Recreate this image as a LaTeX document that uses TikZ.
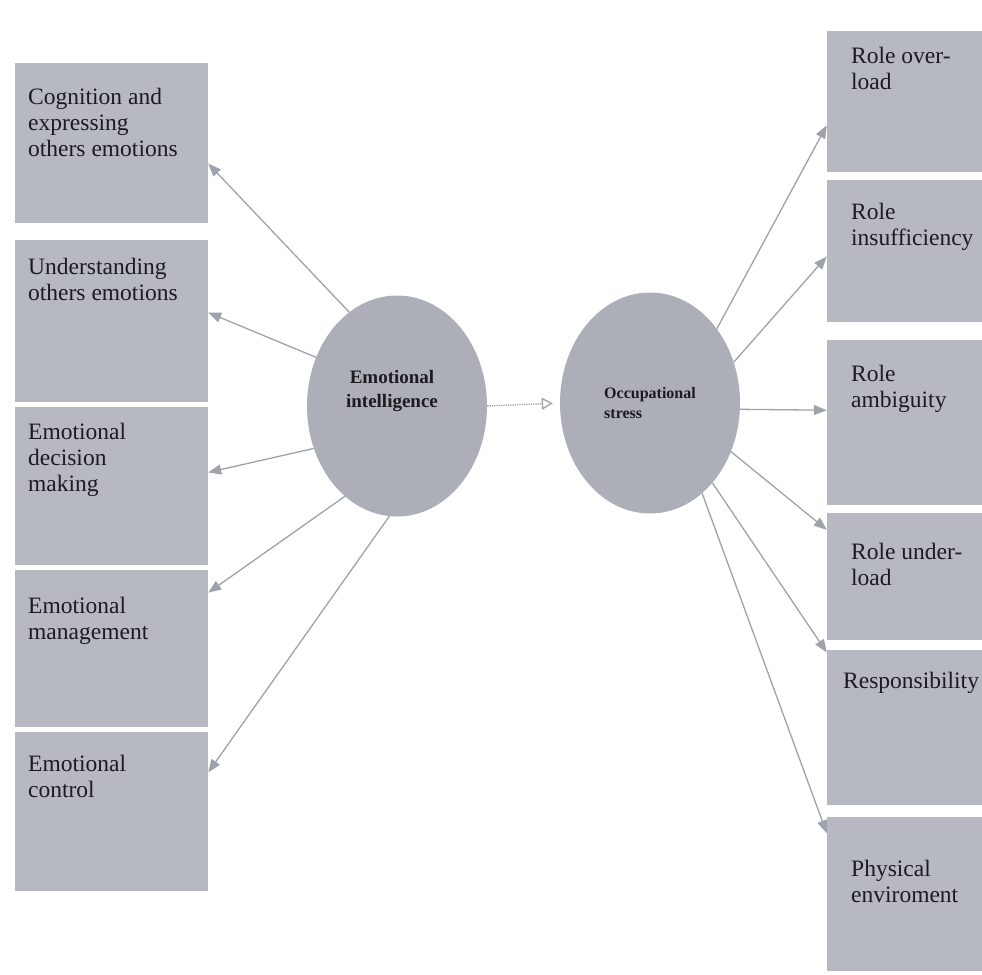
\documentclass[tikz,border=0pt]{standalone}
\usepackage{fontspec}
\setmainfont{Liberation Serif}
\usetikzlibrary{arrows.meta,shapes.geometric}
\definecolor{boxgray}{RGB}{182,185,193}
\definecolor{ovalgray}{RGB}{172,175,184}
\definecolor{linkgray}{RGB}{158,162,171}
\definecolor{inkdark}{RGB}{28,28,32}
\tikzset{
  factorbox/.style={rectangle, fill=boxgray, minimum width=193pt, inner sep=0pt},
  stressbox/.style={rectangle, fill=boxgray, minimum width=155pt, inner sep=0pt},
  boxtext/.style={anchor=north west, align=left, inner sep=0pt, text=inkdark, font=\fontsize{23.5}{26}\selectfont},
  construct/.style={ellipse, fill=ovalgray, minimum width=180pt, minimum height=221pt, inner sep=0pt},
  constext/.style={inner sep=0pt, text=inkdark},
  link/.style={-{Triangle[length=13pt,width=10pt]}, line width=1.3pt, draw=linkgray},
  mainlink/.style={-{Triangle[open,length=11pt,width=12pt]}, line width=1.3pt, draw=linkgray, densely dotted}
}
\begin{document}
\begin{tikzpicture}[x=1pt,y=-1pt]
  \useasboundingbox (0,0) rectangle (982,974);

  % left
  \node[factorbox, minimum height=160pt] (cog) at (111.5,143) {};
  \node[factorbox, minimum height=162pt] (und) at (111.5,321) {};
  \node[factorbox, minimum height=158pt] (dec) at (111.5,486) {};
  \node[factorbox, minimum height=157pt] (man) at (111.5,648.5) {};
  \node[factorbox, minimum height=159pt] (con) at (111.5,811.5) {};
  \node[boxtext] (cogt) at (28,88) {Cognition and\\expressing\\others emotions};
  \node[boxtext] (undt) at (28,258) {Understanding\\others emotions};
  \node[boxtext] (dect) at (28,423) {Emotional\\decision\\making};
  \node[boxtext] (mant) at (28,597) {Emotional\\management};
  \node[boxtext] (cont) at (28,755) {Emotional\\control};

  % middle
  \node[construct] (ei) at (397,406) {};
  \node[construct] (os) at (650,403) {};
  \node[constext, align=center, font=\bfseries\fontsize{19}{24}\selectfont] (eit) at (392,391) {Emotional\\intelligence};
  \node[constext, align=left, font=\bfseries\fontsize{16}{20}\selectfont] (ost) at (650,403) {Occupational\\stress};

  % right
  \node[stressbox, minimum height=141pt] (over) at (904.5,101.5) {};
  \node[stressbox, minimum height=142pt] (insu) at (904.5,251) {};
  \node[stressbox, minimum height=165pt] (ambi) at (904.5,422.5) {};
  \node[stressbox, minimum height=127pt] (under) at (904.5,576.5) {};
  \node[stressbox, minimum height=155pt] (resp) at (904.5,727.5) {};
  \node[stressbox, minimum height=154pt] (phys) at (904.5,894) {};
  \node[boxtext] (overt) at (851,47) {Role over-\\load};
  \node[boxtext] (insut) at (851,203) {Role\\insufficiency};
  \node[boxtext] (ambit) at (851,365) {Role\\ambiguity};
  \node[boxtext] (undert) at (851,543) {Role under-\\load};
  \node[boxtext] (respt) at (843,672) {Responsibility};
  \node[boxtext] (physt) at (851,860) {Physical\\enviroment};

  % links
  \draw[link] (ei.117) -- (cog.348);
  \draw[link] (ei.149) -- (und.5);
  \draw[link] (ei.207) -- (dec.8);
  \draw[link] (ei.240) -- (man.30);
  \draw[link] (ei.266) -- (con.22);
  \draw[mainlink, shorten >=7pt] (ei.east) -- (os.west);
  \draw[link] (os.48) -- (over.197);
  \draw[link] (os.26) -- (insu.184);
  \draw[link] (os.356) -- (ambi.171);
  \draw[link] (os.329) -- (under.149);
  \draw[link] (os.308) -- (resp.136);
  \draw[link] (os.300) -- (phys.142);
\end{tikzpicture}
\end{document}
